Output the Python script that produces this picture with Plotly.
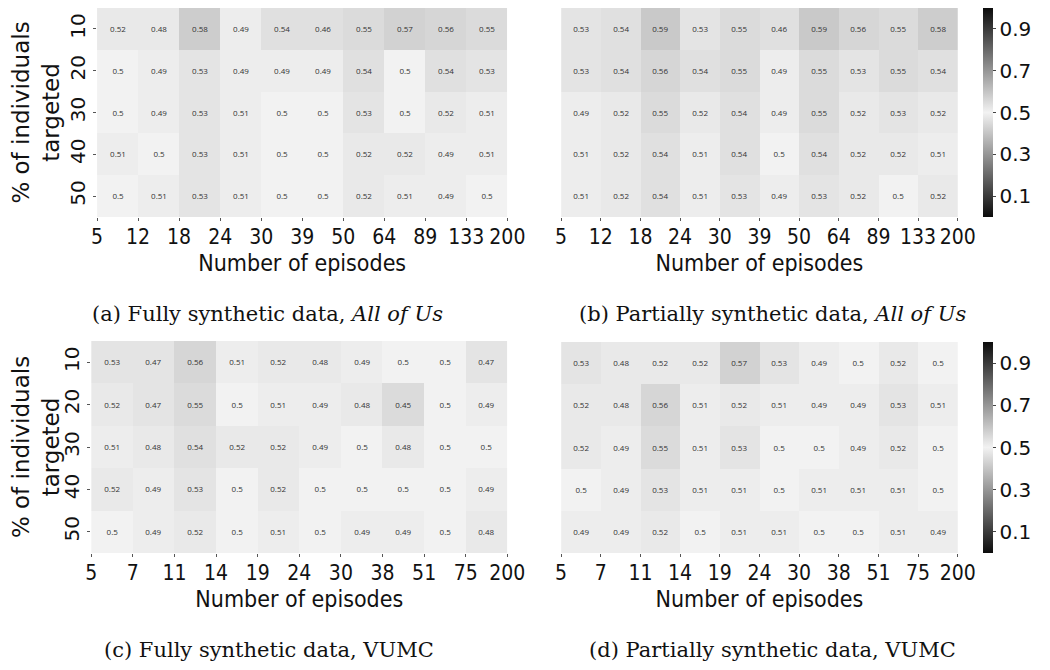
import plotly.graph_objects as go

# % of individuals targeted (rows) and number of episodes (column edges)
pct_targeted = ["10", "20", "30", "40", "50"]
episodes_allofus = ["5", "12", "18", "24", "30", "39", "50", "64", "89", "133", "200"]
episodes_vumc = ["5", "7", "11", "14", "19", "24", "30", "38", "51", "75", "200"]

# (a) Fully synthetic data, All of Us
full_allofus = [
    [0.52, 0.48, 0.58, 0.49, 0.54, 0.46, 0.55, 0.57, 0.56, 0.55],
    [0.5, 0.49, 0.53, 0.49, 0.49, 0.49, 0.54, 0.5, 0.54, 0.53],
    [0.5, 0.49, 0.53, 0.51, 0.5, 0.5, 0.53, 0.5, 0.52, 0.51],
    [0.51, 0.5, 0.53, 0.51, 0.5, 0.5, 0.52, 0.52, 0.49, 0.51],
    [0.5, 0.51, 0.53, 0.51, 0.5, 0.5, 0.52, 0.51, 0.49, 0.5],
]
# (b) Partially synthetic data, All of Us
partial_allofus = [
    [0.53, 0.54, 0.59, 0.53, 0.55, 0.46, 0.59, 0.56, 0.55, 0.58],
    [0.53, 0.54, 0.56, 0.54, 0.55, 0.49, 0.55, 0.53, 0.55, 0.54],
    [0.49, 0.52, 0.55, 0.52, 0.54, 0.49, 0.55, 0.52, 0.53, 0.52],
    [0.51, 0.52, 0.54, 0.51, 0.54, 0.5, 0.54, 0.52, 0.52, 0.51],
    [0.51, 0.52, 0.54, 0.51, 0.53, 0.49, 0.53, 0.52, 0.5, 0.52],
]
# (c) Fully synthetic data, VUMC
full_vumc = [
    [0.53, 0.47, 0.56, 0.51, 0.52, 0.48, 0.49, 0.5, 0.5, 0.47],
    [0.52, 0.47, 0.55, 0.5, 0.51, 0.49, 0.48, 0.45, 0.5, 0.49],
    [0.51, 0.48, 0.54, 0.52, 0.52, 0.49, 0.5, 0.48, 0.5, 0.5],
    [0.52, 0.49, 0.53, 0.5, 0.52, 0.5, 0.5, 0.5, 0.5, 0.49],
    [0.5, 0.49, 0.52, 0.5, 0.51, 0.5, 0.49, 0.49, 0.5, 0.48],
]
# (d) Partially synthetic data, VUMC
partial_vumc = [
    [0.53, 0.48, 0.52, 0.52, 0.57, 0.53, 0.49, 0.5, 0.52, 0.5],
    [0.52, 0.48, 0.56, 0.51, 0.52, 0.51, 0.49, 0.49, 0.53, 0.51],
    [0.52, 0.49, 0.55, 0.51, 0.53, 0.5, 0.5, 0.49, 0.52, 0.5],
    [0.5, 0.49, 0.53, 0.51, 0.51, 0.5, 0.51, 0.51, 0.51, 0.5],
    [0.49, 0.49, 0.52, 0.5, 0.51, 0.51, 0.5, 0.5, 0.51, 0.49],
]

# the page body has an 8px margin, so the figure is drawn 8px smaller
OFF = 8
W, H = 1050 - OFF, 670 - OFF
gray_div = [[0.0, "rgb(12,12,12)"], [0.5, "rgb(242,242,242)"], [1.0, "rgb(12,12,12)"]]
cond = "DejaVu Sans Condensed, Liberation Sans Narrow, DejaVu Sans"
tick_font = dict(family=cond, size=21, color="#111")
title_font = dict(family=cond, size=23, color="#111")


def px_x(p):
    return (p - OFF) / W


def px_y(p):
    return 1 - (p - OFF) / H


# pixel boxes in the 1050x670 window: (left, right, top, bottom)
panels = [
    ("", full_allofus, episodes_allofus, (93, 513, 8, 217), False, True),
    ("2", partial_allofus, episodes_allofus, (568, 974, 8, 217), True, False),
    ("3", full_vumc, episodes_vumc, (87, 513, 341, 553), False, True),
    ("4", partial_vumc, episodes_vumc, (568, 974, 342, 553), True, False),
]

fig = go.Figure()
layout = {}
for suffix, z, eps, (l, r, t, b), show_cb, show_y in panels:
    ncol = len(z[0])
    fig.add_trace(go.Heatmap(
        z=z,
        x=[i + 0.5 for i in range(ncol)],
        y=pct_targeted,
        xaxis="x" + suffix, yaxis="y" + suffix,
        colorscale=gray_div, zmin=0, zmax=1,
        texttemplate="%{z}",
        textfont=dict(size=8, color="#333", family="Open Sans"),
        showscale=show_cb,
        colorbar=dict(
            x=px_x(1000), xanchor="left", xpad=0, thickness=10,
            y=px_y((t + b) / 2), yanchor="middle", ypad=0, len=(b - t) / H,
            tickvals=[0.1, 0.3, 0.5, 0.7, 0.9], ticks="outside", ticklen=3,
            tickfont=dict(family="DejaVu Sans", size=20, color="#111"),
            outlinewidth=0,
        ),
        hoverongaps=False,
    ))
    layout["xaxis" + suffix] = dict(
        domain=[px_x(l), px_x(r)], anchor="y" + suffix,
        range=[0, ncol], tickmode="array",
        tickvals=list(range(ncol + 1)), ticktext=eps,
        ticks="outside", ticklen=3, tickcolor="#555", ticklabelstandoff=-2,
        tickfont=tick_font, showgrid=False, zeroline=False,
        title=dict(text="Number of episodes", font=title_font, standoff=6),
    )
    layout["yaxis" + suffix] = dict(
        domain=[px_y(b), px_y(t)], anchor="x" + suffix,
        autorange="reversed", type="category",
        showticklabels=show_y, ticks="outside" if show_y else "",
        ticklen=3, tickcolor="#555", tickangle=-90,
        tickfont=dict(family="DejaVu Sans", size=20, color="#111"),
        showgrid=False, zeroline=False,
        title=dict(text="% of individuals<br>targeted" if show_y else "",
                   font=dict(family="DejaVu Sans", size=23, color="#111"), standoff=6),
    )

captions = [
    ("(a) Fully synthetic data, <i>All of Us</i>", 267, 314),
    ("(b) Partially synthetic data, <i>All of Us</i>", 784, 314),
    ("(c) Fully synthetic data, VUMC", 269, 650),
    ("(d) Partially synthetic data, VUMC", 784, 650),
]
annotations = [
    dict(text=txt, x=px_x(cx), y=px_y(cy), xref="paper", yref="paper",
         xanchor="center", yanchor="middle", showarrow=False,
         font=dict(family="DejaVu Serif", size=21, color="#111"))
    for txt, cx, cy in captions
]

fig.update_layout(
    width=W, height=H,
    margin=dict(l=0, r=0, t=0, b=0),
    paper_bgcolor="white", plot_bgcolor="white",
    annotations=annotations,
    **layout,
)

fig.write_html("out.html")
